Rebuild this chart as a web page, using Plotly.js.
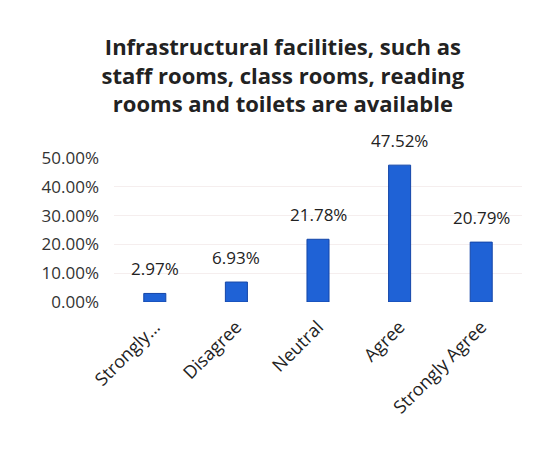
<!DOCTYPE html>
<html><head><meta charset="utf-8">
<script src="https://cdn.plot.ly/plotly-3.0.1.min.js"></script>
<style>html,body{margin:0;padding:0;background:#fff}#c{width:544px;height:453px}</style>
</head><body><div id="c"></div>
<script>
const categories = ["Strongly...", "Disagree", "Neutral", "Agree", "Strongly Agree"];
const values = [0.0297, 0.0693, 0.2178, 0.4752, 0.2079];
const labels = ["2.97%", "6.93%", "21.78%", "47.52%", "20.79%"];
const yTicks = [0, 0.1, 0.2, 0.3, 0.4, 0.5];
const yTickText = ["0.00%", "10.00%", "20.00%", "30.00%", "40.00%", "50.00%"];

const trace = {
  type: 'bar', x: categories, y: values, cliponaxis: false,
  marker: {color: '#1f62d6', line: {color: '#1446a8', width: 1}},
  width: 0.27, hoverinfo: 'none'
};
const annotations = categories.map((c, i) => ({
  x: c, y: values[i], xref: 'x', yref: 'y', text: labels[i], showarrow: false,
  yanchor: 'bottom', xanchor: 'center', yshift: 11,
  font: {family: 'Open Sans, sans-serif', size: 17, color: '#222'}
}));
const layout = {
  width: 544, height: 453,
  margin: {l: 114, r: 22, t: 158, b: 151},
  paper_bgcolor: '#fff', plot_bgcolor: '#fff',
  showlegend: false,
  annotations: annotations,
  title: {text: 'Infrastructural facilities, such as<br>staff rooms, class rooms, reading<br>rooms and toilets are available',
    font: {family: 'Open Sans, sans-serif', size: 22, color: '#222', weight: 'bold'},
    x: 0.52, xanchor: 'center', y: 0.878, yanchor: 'top'},
  xaxis: {type: 'category', tickangle: -45, showgrid: false, zeroline: false,
    showline: false, ticks: '', ticklabelstandoff: 10,
    tickfont: {family: 'Open Sans, sans-serif', size: 18, color: '#222'}},
  yaxis: {range: [0, 0.5], tickvals: yTicks, ticktext: yTickText,
    showgrid: true, gridcolor: '#f5eeee', zeroline: false, showline: false,
    ticks: '', ticklen: 0, ticklabelstandoff: 14,
    tickfont: {family: 'Open Sans, sans-serif', size: 17, color: '#333'}}
};
Plotly.newPlot('c', [trace], layout, {displayModeBar: false, staticPlot: true});
</script></body></html>
